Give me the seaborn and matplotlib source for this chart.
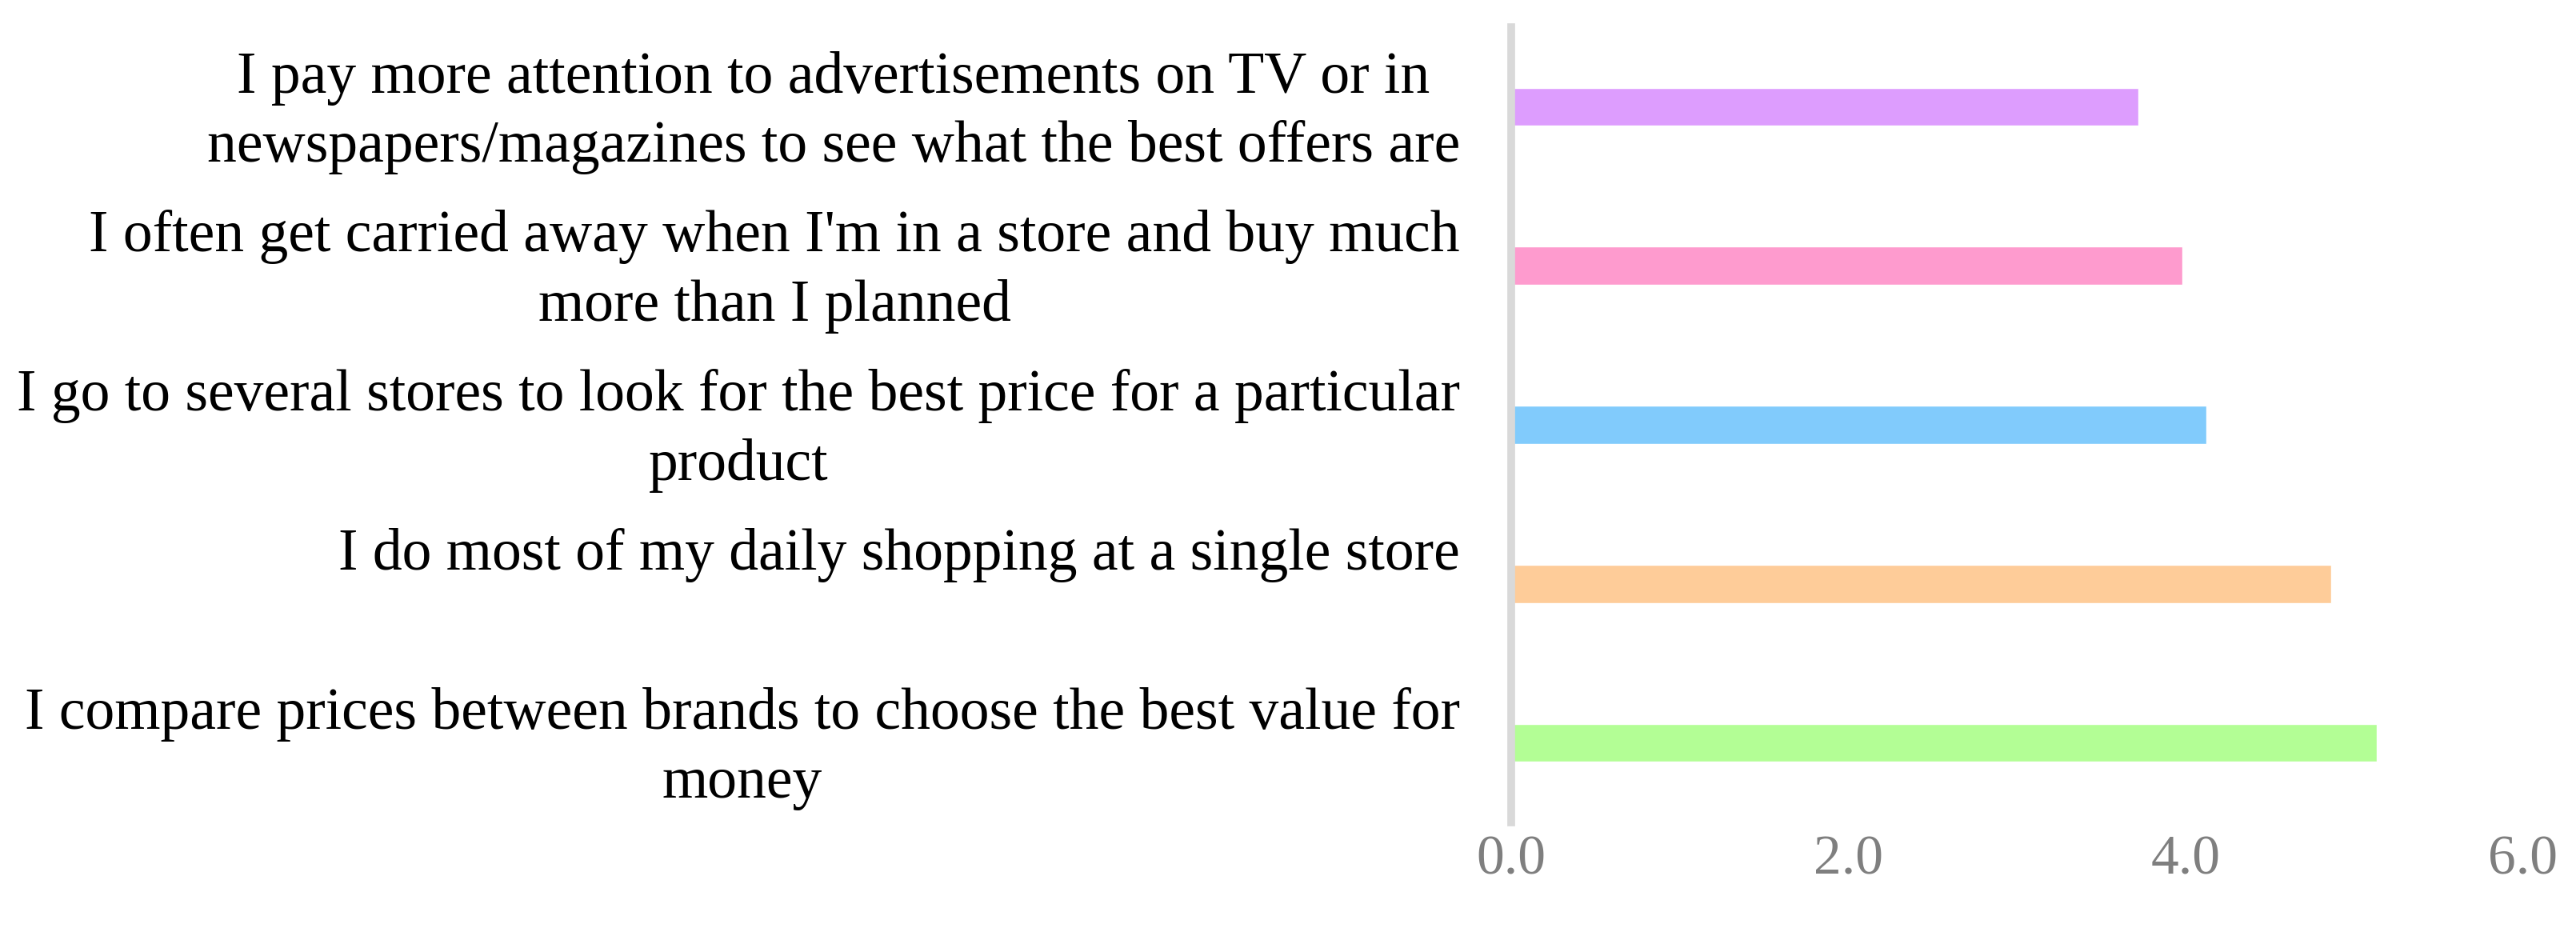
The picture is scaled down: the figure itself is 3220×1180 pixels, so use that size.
import numpy as np
import pandas as pd
import matplotlib
matplotlib.use('Agg')
import matplotlib.pyplot as plt
import matplotlib.transforms as mtransforms
from matplotlib.ticker import FormatStrFormatter
import seaborn as sns

# statements (top to bottom) and mean scores
statements = [
    "I pay more attention to advertisements on TV or in\nnewspapers/magazines to see what the best offers are",
    "I often get carried away when I'm in a store and buy much\nmore than I planned",
    "I go to several stores to look for the best price for a particular\nproduct",
    "I do most of my daily shopping at a single store\n ",
    "I compare prices between brands to choose the best value for\nmoney",
]
scores = [3.72, 3.98, 4.12, 4.86, 5.13]
bar_colors = ["#DD9DFE", "#FE9BCE", "#81CBFC", "#FECC99", "#B3FE95"]
xticks = [0, 2, 4, 6]

df = pd.DataFrame({"statement": statements, "score": scores})

sns.set_style("white")
plt.rcParams['font.family'] = ['Liberation Serif', 'DejaVu Serif']

fig = plt.figure(figsize=(32.2, 11.8), dpi=100)
ax = fig.add_axes([0.5866, 0.129, 0.3929, 0.842])

sns.barplot(data=df, y="statement", x="score", hue="statement",
            palette=bar_colors, orient="h", width=0.24, legend=False,
            saturation=1, ax=ax)

ax.set_xlim(0, 6)
ax.set_ylim(4.5, -0.5)
ax.set_xticks(xticks)
ax.xaxis.set_major_formatter(FormatStrFormatter('%.1f'))
ax.set_xlabel("")
ax.set_ylabel("")

for s in ["top", "right", "bottom"]:
    ax.spines[s].set_visible(False)
ax.spines["left"].set_color("#d9d9d9")
ax.spines["left"].set_linewidth(7)
ax.spines["left"].set_zorder(5)

ax.tick_params(axis="y", length=0, pad=46, labelsize=53, labelcolor="black")
ax.tick_params(axis="x", length=0, pad=12, labelsize=50, labelcolor="#7f7f7f")
shift = mtransforms.ScaledTranslation(0, 0.1, fig.dpi_scale_trans)
for lbl in ax.get_yticklabels():
    lbl.set_multialignment("center")
    lbl.set_linespacing(1.36)
    lbl.set_transform(lbl.get_transform() + shift)

fig.savefig("out.png", dpi=100)
